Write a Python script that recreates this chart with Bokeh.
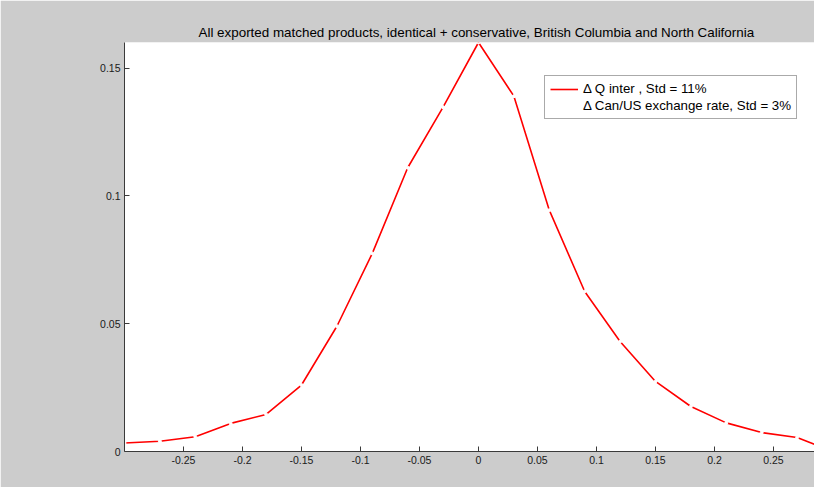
from bokeh.plotting import figure
from bokeh.models import Range1d, FixedTicker, CustomJSTickFormatter, Legend, LegendItem
from bokeh.embed import file_html
from bokeh.resources import INLINE

# Data
x_vals = [-0.30, -0.27, -0.24, -0.21, -0.18, -0.15, -0.12, -0.09, -0.06, -0.03, 0.0,
          0.03, 0.06, 0.09, 0.12, 0.15, 0.18, 0.21, 0.24, 0.27, 0.30]
q_inter = [0.0033, 0.0040, 0.0058, 0.0110, 0.0145, 0.0260, 0.0490, 0.0775, 0.1110, 0.1347, 0.1600,
           0.1390, 0.0944, 0.0626, 0.0430, 0.0274, 0.0176, 0.0112, 0.0074, 0.0055, 0.0000]
x_ticks = [-0.25, -0.2, -0.15, -0.1, -0.05, 0.0, 0.05, 0.1, 0.15, 0.2, 0.25]
y_ticks = [0.0, 0.05, 0.1, 0.15]
title_text = "All exported matched products, identical + conservative, British Columbia and North California"
label_q = "\u0394 Q inter , Std = 11%"
label_fx = "\u0394 Can/US exchange rate, Std = 3%"

FONT = "Liberation Sans"

# the reference axes run slightly past the right edge of the window
p = figure(width=814, height=487, output_backend="svg", toolbar_location=None,
           x_range=Range1d(-0.3, 0.28475), y_range=Range1d(0, 0.16),
           min_border_left=124, min_border_right=0, min_border_top=42, min_border_bottom=36)

p.border_fill_color = "#cccccc"
p.background_fill_color = "white"
p.outline_line_color = None
p.xgrid.visible = False
p.ygrid.visible = False

p.title.text = title_text
p.title.text_font = FONT
p.title.text_font_size = "13.4px"
p.title.text_font_style = "normal"
p.title.text_color = "black"
p.title.align = "left"
p.title.offset = 74
p.title.standoff = 6

fmt = CustomJSTickFormatter(code="return String(Math.round(tick*100)/100);")
for ax, ticks in ((p.xaxis[0], x_ticks), (p.yaxis[0], y_ticks)):
    ax.ticker = FixedTicker(ticks=ticks)
    ax.formatter = fmt
    ax.major_tick_in = 5
    ax.major_tick_out = 0
    ax.minor_tick_line_color = None
    ax.axis_line_color = "#3a3a3a"
    ax.major_tick_line_color = "#3a3a3a"
    ax.major_label_text_font = FONT
    ax.major_label_text_font_size = "10.5px"
    ax.major_label_text_color = "#1a1a1a"
    ax.major_label_standoff = 4

r_line = p.line(x_vals, q_inter, line_color="#ff0000", line_width=1.6)
r_white = p.scatter(x_vals, q_inter, size=3, fill_color="white", line_color="white")

legend = Legend(items=[LegendItem(label=label_q, renderers=[r_line]),
                       LegendItem(label=label_fx, renderers=[r_white])],
                location=(420, 332), orientation="vertical")
legend.label_text_font = FONT
legend.label_text_font_size = "13.3px"
legend.label_text_color = "black"
legend.glyph_width = 28
legend.glyph_height = 14
legend.label_height = 14
legend.label_standoff = 5
legend.spacing = 2
legend.padding = 5
legend.margin = 0
legend.border_line_color = "#555555"
legend.border_line_width = 1
legend.background_fill_color = "white"
legend.background_fill_alpha = 1.0
p.add_layout(legend, "center")

open("out.html", "w").write(file_html(p, INLINE))
